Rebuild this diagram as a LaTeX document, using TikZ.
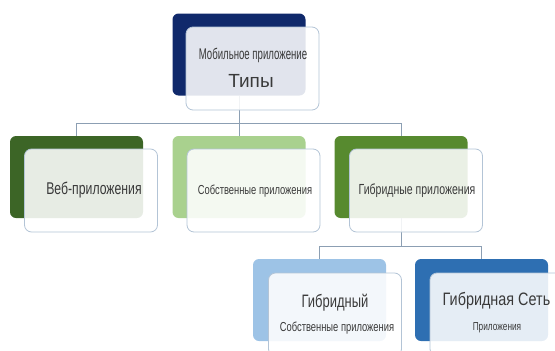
\documentclass[tikz,border=0pt]{standalone}
\usepackage{fontspec}
\setmainfont{Liberation Sans}
\newfontfamily\narrowfont[FakeStretch=0.72]{Liberation Sans}
\newfontfamily\vnarrowfont[FakeStretch=0.62]{Liberation Sans}
\newfontfamily\midfont[FakeStretch=0.8]{Liberation Sans}
\definecolor{navyB}{HTML}{10296B}
\definecolor{dgreenB}{HTML}{3C6526}
\definecolor{lgreenB}{HTML}{A9D18E}
\definecolor{mgreenB}{HTML}{578A2F}
\definecolor{lblueB}{HTML}{9DC3E6}
\definecolor{dblueB}{HTML}{2E6FB2}
\definecolor{edgeC}{HTML}{B3C4D6}
\definecolor{lineC}{HTML}{8C9FB3}
\definecolor{txtC}{HTML}{3A3A3A}
\begin{document}
\begin{tikzpicture}[x=1pt,y=-1pt,
  backbox/.style={rounded corners=6pt, minimum width=133pt, minimum height=82pt, inner sep=0pt, draw=none},
  frontbox/.style={rounded corners=7pt, minimum width=133pt, minimum height=83pt, inner sep=0pt, draw=edgeC, line width=0.8pt, fill=white, fill opacity=0.88, text opacity=1},
  conn/.style={draw=lineC, line width=0.9pt},
  txt/.style={text=txtC, inner sep=0pt, font=\narrowfont}
]
\useasboundingbox (0,0) rectangle (555,351);
% back boxes
\node[backbox, fill=navyB] (tb) at (239,54.5) {};
\node[backbox, fill=dgreenB] (b1) at (76.5,177) {};
\node[backbox, fill=lgreenB] (b2) at (239,177) {};
\node[backbox, fill=mgreenB] (b3) at (401,177) {};
\node[backbox, fill=lblueB] (b4) at (319.5,300) {};
\node[backbox, fill=dblueB] (b5) at (481.5,300) {};
% connectors
\coordinate (j1) at (239,123);
\coordinate (j2) at (401,246);
\draw[conn] (tb.south) -- (j1);
\draw[conn] (j1) -| (b1.north);
\draw[conn] (j1) -| (b3.north);
\draw[conn] (j1) -- (b2.north);
\draw[conn] (b3.south) -- (j2);
\draw[conn] (j2) -| (b4.north);
\draw[conn] (j2) -| (b5.north);
% front boxes
\node[frontbox] (tf) at (252.5,68.5) {};
\node[frontbox] (f1) at (91,190.5) {};
\node[frontbox] (f2) at (253.5,190.5) {};
\node[frontbox] (f3) at (416,190.5) {};
\node[frontbox] (f4) at (335,314.5) {};
\node[frontbox] (f5) at (496.5,314.5) {};
% texts
\node[txt, font=\vnarrowfont\fontsize{15.5}{17}\selectfont] (t0a) at (253,55) {Мобильное приложение};
\node[txt, font=\fontsize{19}{21}\selectfont] (t0b) at (251,81) {Типы};
\node[txt, font=\narrowfont\fontsize{17}{19}\selectfont] (t1) at (94,190) {Веб-приложения};
\node[txt, font=\narrowfont\fontsize{13}{15}\selectfont] (t2) at (255,191) {Собственные приложения};
\node[txt, font=\narrowfont\fontsize{14.6}{16}\selectfont] (t3) at (417,191) {Гибридные приложения};
\node[txt, font=\narrowfont\fontsize{18}{20}\selectfont] (t4a) at (335,303) {Гибридный};
\node[txt, font=\narrowfont\fontsize{13}{15}\selectfont] (t4b) at (337,328) {Собственные приложения};
\node[txt, font=\midfont\fontsize{18}{20}\selectfont] (t5a) at (496.5,301) {Гибридная Сеть};
\node[txt, font=\narrowfont\fontsize{11.5}{13}\selectfont] (t5b) at (497,328) {Приложения};
\end{tikzpicture}
\end{document}
